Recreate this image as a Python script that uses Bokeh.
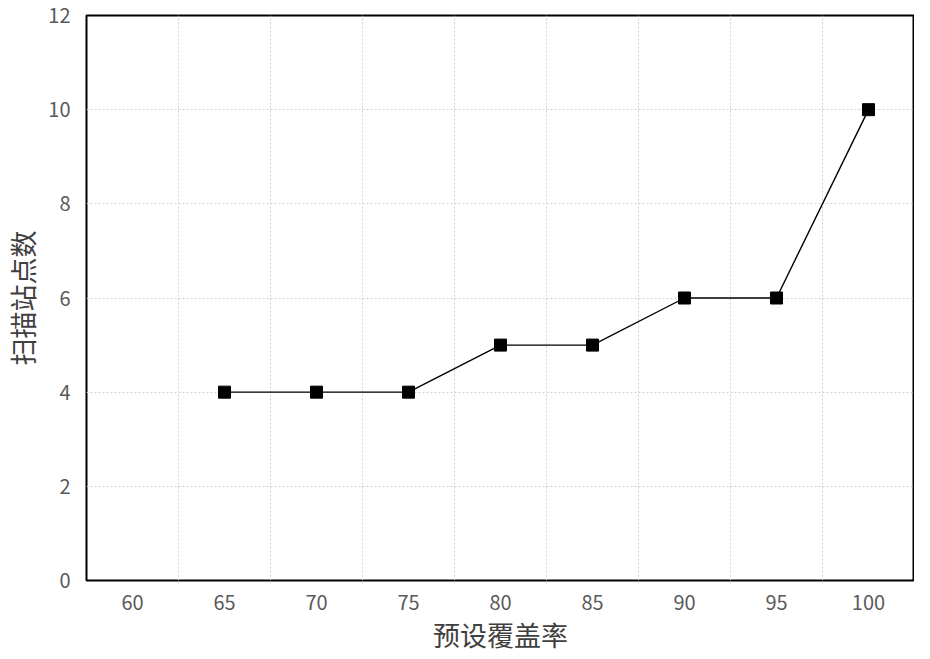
from bokeh.plotting import figure
from bokeh.models import Range1d, FixedTicker
from bokeh.embed import file_html
from bokeh.resources import INLINE

# data
coverage_ticks = [60, 65, 70, 75, 80, 85, 90, 95, 100]
coverage = [65, 70, 75, 80, 85, 90, 95, 100]
stations = [4, 4, 4, 5, 5, 6, 6, 10]
y_ticks = [0, 2, 4, 6, 8, 10, 12]
grid_x = [62.5, 67.5, 72.5, 77.5, 82.5, 87.5, 92.5, 97.5]
grid_y = [2, 4, 6, 8, 10]

FONT = "Noto Sans CJK SC"

p = figure(width=914, height=656, output_backend="svg", toolbar_location=None,
           x_range=Range1d(57.5, 102.5), y_range=Range1d(0, 12),
           min_border_left=78, min_border_right=0, min_border_top=15, min_border_bottom=66)

p.outline_line_color = "black"
p.outline_line_width = 2
p.background_fill_color = "white"
p.border_fill_color = "white"

p.line(coverage, stations, line_color="black", line_width=1.4)
p.scatter(coverage, stations, marker="square", size=12, fill_color="black", line_color="black")

for ax in (p.xaxis[0], p.yaxis[0]):
    ax.axis_line_color = None
    ax.major_tick_line_color = None
    ax.minor_tick_line_color = None
    ax.major_label_text_font = FONT
    ax.major_label_text_font_size = "20px"
    ax.major_label_text_color = "#595959"
    ax.axis_label_text_font = FONT
    ax.axis_label_text_font_size = "27px"
    ax.axis_label_text_font_style = "normal"
    ax.axis_label_text_color = "#404040"

p.xaxis.ticker = FixedTicker(ticks=coverage_ticks)
p.yaxis.ticker = FixedTicker(ticks=y_ticks)
p.xaxis.axis_label = "预设覆盖率"
p.yaxis.axis_label = "扫描站点数"
p.xaxis.major_label_standoff = 8
p.yaxis.major_label_standoff = 10
p.xaxis.axis_label_standoff = 2
p.yaxis.axis_label_standoff = 3

p.xgrid.ticker = FixedTicker(ticks=grid_x)
p.ygrid.ticker = FixedTicker(ticks=grid_y)
for g in (p.xgrid[0], p.ygrid[0]):
    g.grid_line_color = "#d0d0d0"
    g.grid_line_width = 1
    g.grid_line_dash = "2 2"

open("out.html", "w").write(file_html(p, INLINE))
